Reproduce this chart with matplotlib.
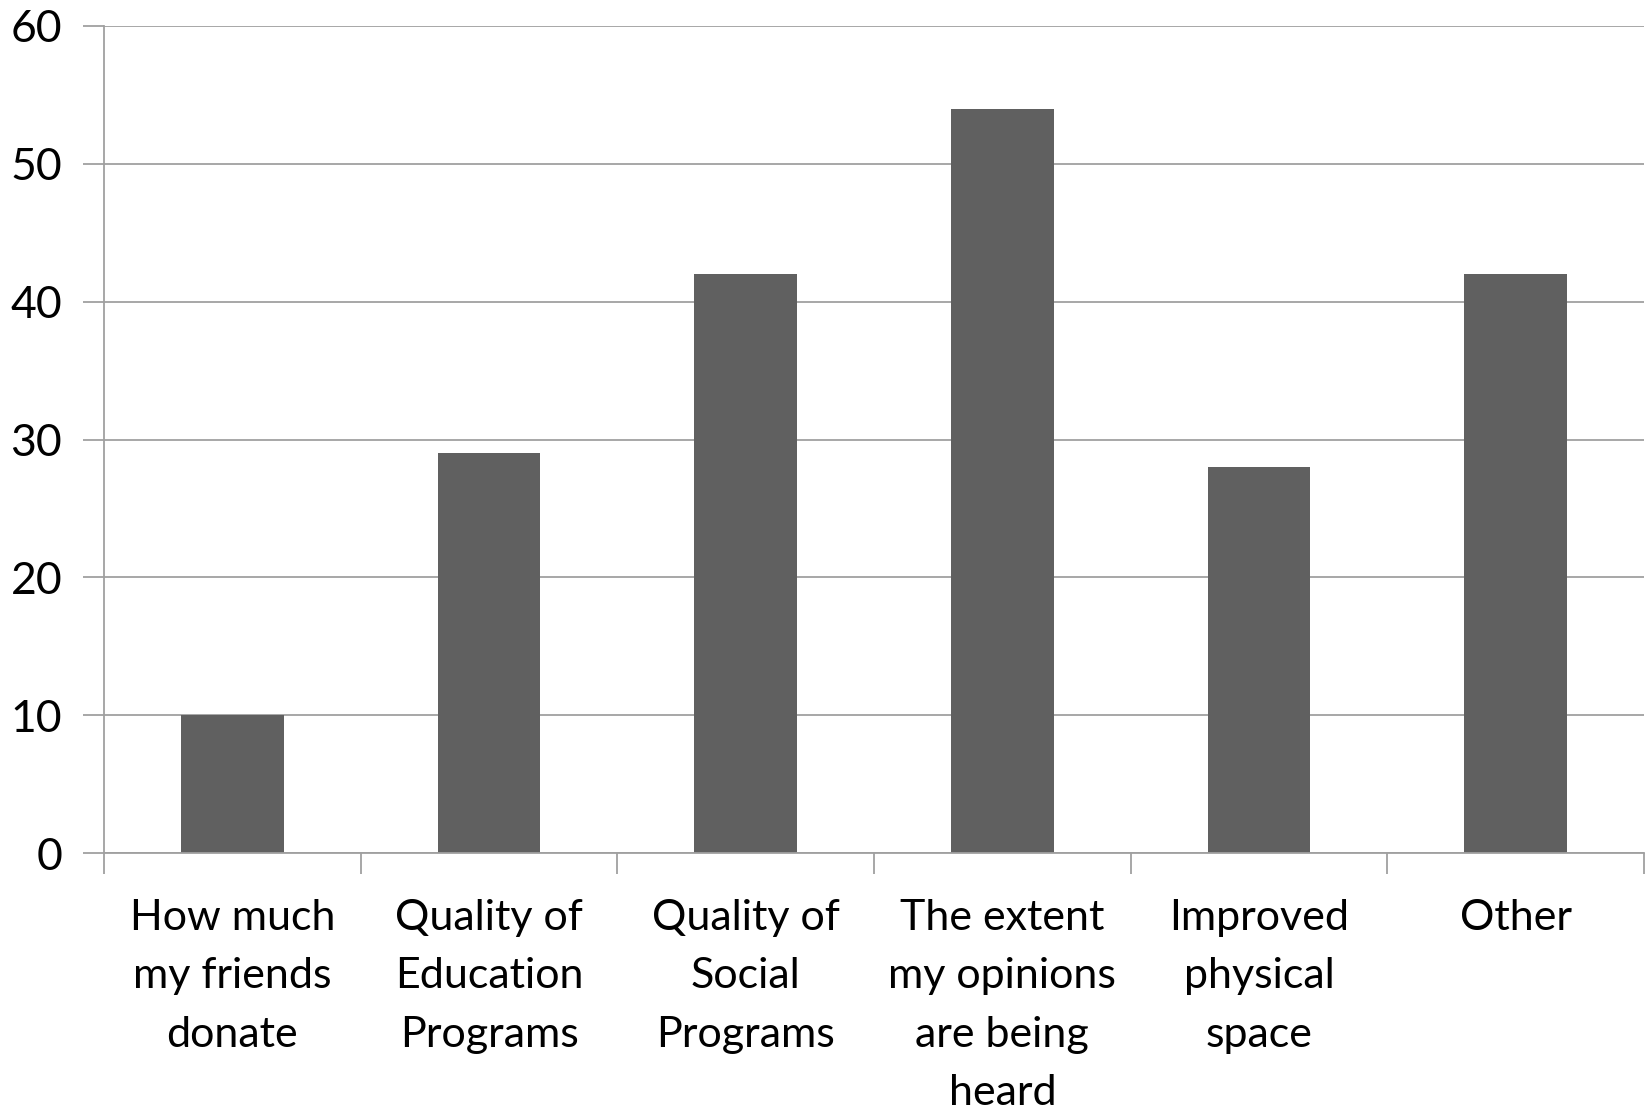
import matplotlib
matplotlib.use("Agg")
import matplotlib.pyplot as plt

categories = ["How much\nmy friends\ndonate", "Quality of\nEducation\nPrograms",
              "Quality of\nSocial\nPrograms", "The extent\nmy opinions\nare being\nheard",
              "Improved\nphysical\nspace", "Other"]
values = [10, 29, 42, 54, 28, 42]
yticks = [0, 10, 20, 30, 40, 50, 60]

plt.rcParams['font.family'] = ['Lato', 'DejaVu Sans']

fig = plt.figure(figsize=(16.51, 11.13), dpi=100)
ax = fig.add_axes([104/1651, 1-853/1113, (1644-104)/1651, (853-26)/1113])

grid_col = '#a0a0a0'
x = list(range(len(categories)))
ax.bar(x, values, width=0.4, color='#606060', linewidth=0, zorder=3)
ax.set_xlim(-0.5, len(categories)-0.5)
ax.set_ylim(0, 60)
ax.set_yticks(yticks)
ax.set_yticklabels([str(t) for t in yticks])
ax.yaxis.grid(True, color=grid_col, linewidth=1.3, zorder=0)
ax.set_xticks([i-0.5 for i in range(len(categories)+1)], minor=False)
ax.set_xticklabels([])
ax.set_xticks(x, minor=True)
ax.set_xticklabels(categories, minor=True, fontsize=31, linespacing=1.66, va='top')
ax.tick_params(axis='x', which='minor', length=0, pad=33)
ax.tick_params(axis='x', which='major', length=15, width=1.3, color=grid_col, direction='out')
ax.tick_params(axis='y', length=15, width=1.3, color=grid_col, labelsize=32, pad=15)
for s in ['top', 'right']:
    ax.spines[s].set_visible(False)
for s in ['left', 'bottom']:
    ax.spines[s].set_color(grid_col)
    ax.spines[s].set_linewidth(1.3)
    ax.spines[s].set_zorder(4)

fig.savefig('out.png', dpi=100)
